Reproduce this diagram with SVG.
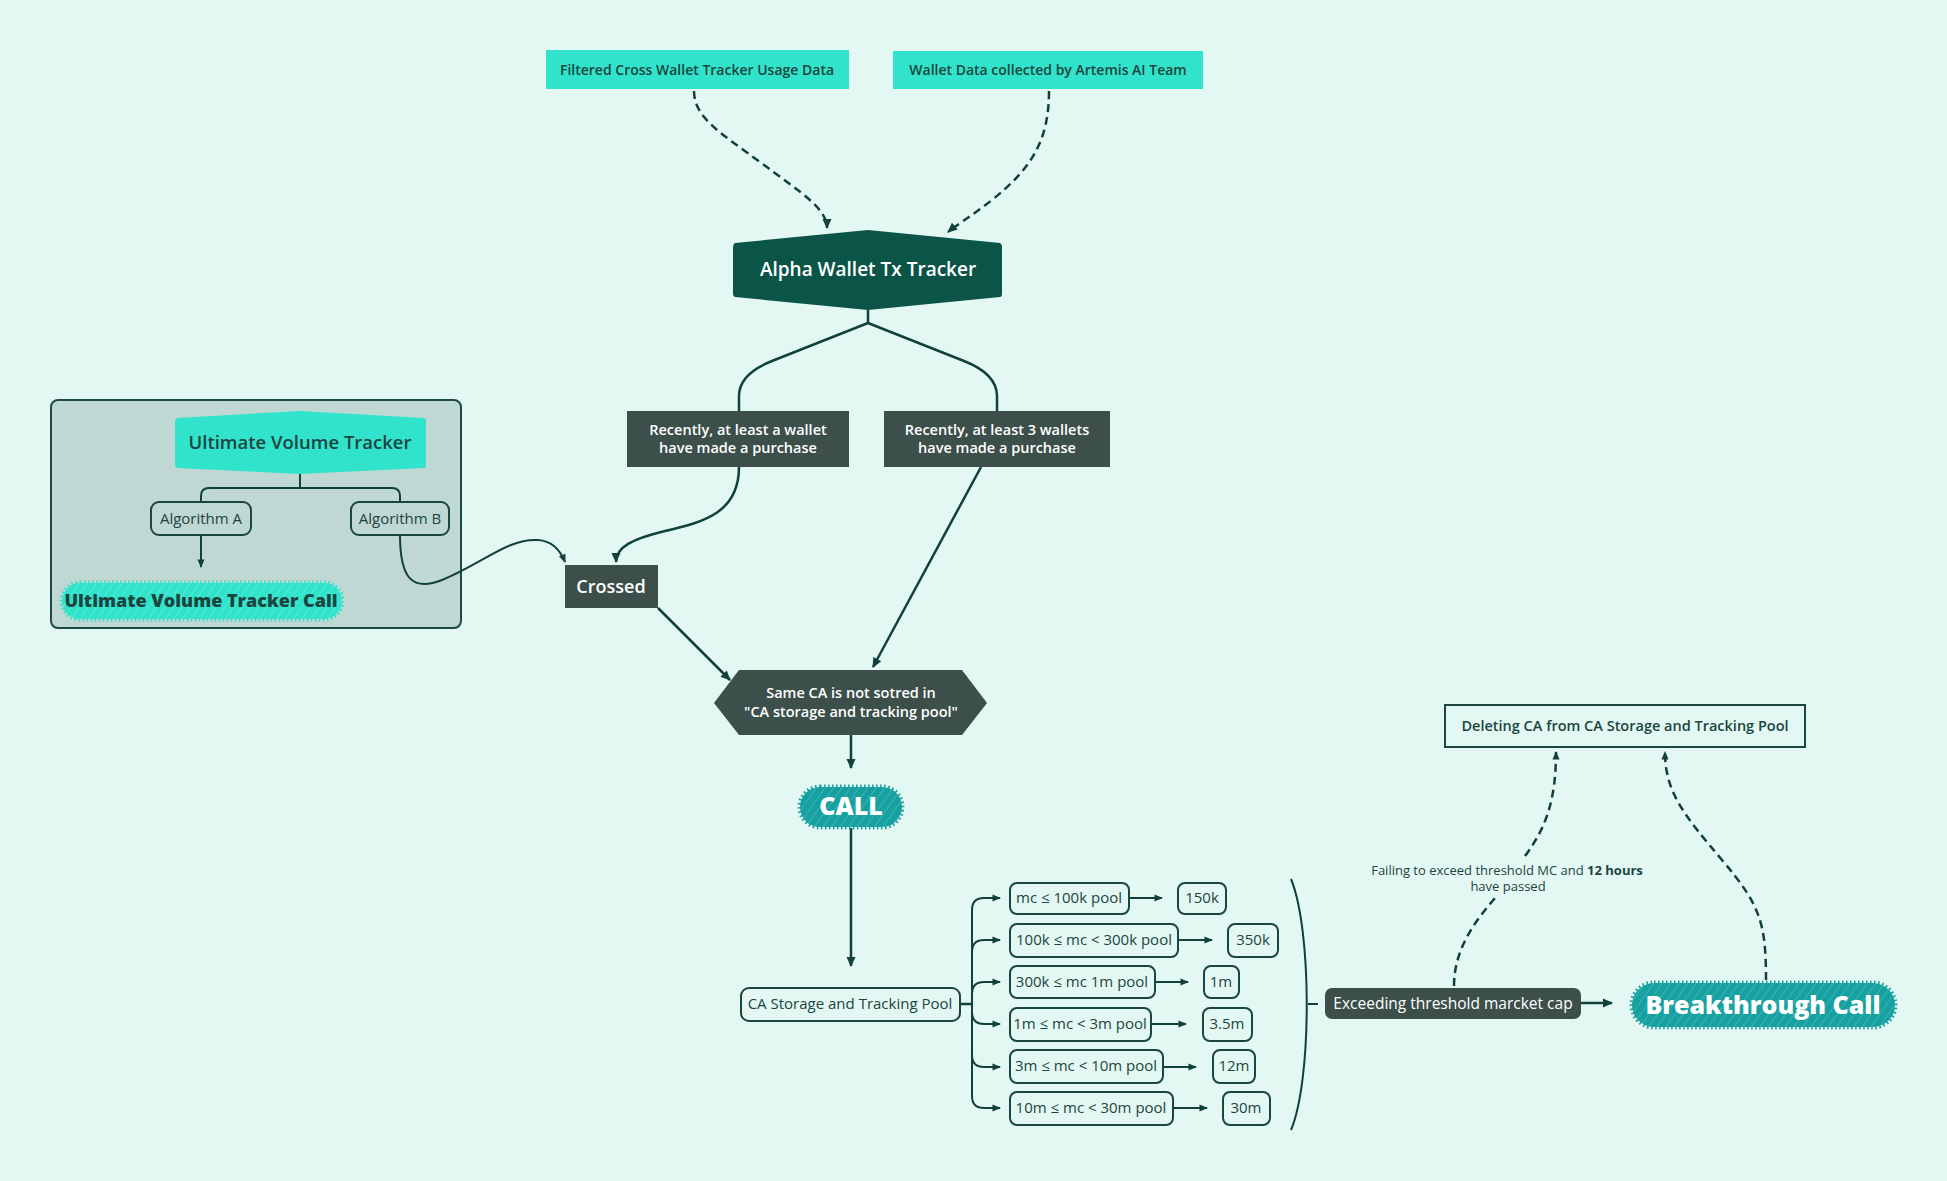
<svg xmlns="http://www.w3.org/2000/svg" width="1947" height="1181" viewBox="0 0 1947 1181">
<style>
text{font-family:"Open Sans","Liberation Sans",sans-serif;}
.conn{fill:none;stroke:#12403b;stroke-width:2.5;}
.dash{fill:none;stroke:#12403b;stroke-width:2.5;stroke-dasharray:8 5;}
.thin{fill:none;stroke:#12403b;stroke-width:2;}
.pill{fill:#e3f8f3;stroke:#1b4540;stroke-width:2;}
.dark{fill:#3c4f4b;}
.wt{fill:#ffffff;font-weight:600;text-anchor:middle;}
.wtb{fill:#ffffff;font-weight:800;text-anchor:middle;}
.dt{fill:#1b4540;text-anchor:middle;}
.pt{fill:#1b4540;font-size:15px;text-anchor:middle;}
.blobT{fill:#17a0a0;stroke:#17a0a0;stroke-width:5;stroke-dasharray:1.5 2.5;}
.blobC{fill:#30e3ca;stroke:#30e3ca;stroke-width:5;stroke-dasharray:1.5 2.5;}
</style>
<defs>
<marker id="ah" markerWidth="12" markerHeight="12" refX="10" refY="6" orient="auto" markerUnits="userSpaceOnUse">
<path d="M1,1.5 L11,6 L1,10.5 Z" fill="#12403b"/>
</marker>
<marker id="ahs" markerWidth="10" markerHeight="10" refX="8" refY="5" orient="auto" markerUnits="userSpaceOnUse">
<path d="M0.5,1.5 L9,5 L0.5,8.5 Z" fill="#12403b"/>
</marker>
<pattern id="hatchT" width="7" height="7" patternUnits="userSpaceOnUse" patternTransform="rotate(35)">
<line x1="0" y1="0" x2="0" y2="7" stroke="#5cc4c4" stroke-width="1"/>
</pattern>
<pattern id="hatchC" width="7" height="7" patternUnits="userSpaceOnUse" patternTransform="rotate(35)">
<line x1="0" y1="0" x2="0" y2="7" stroke="#7af0dc" stroke-width="1"/>
</pattern>
</defs>
<rect x="0" y="0" width="1947" height="1181" fill="#e3f8f3"/>

<g id="ultimate-container">
<rect x="51" y="400" width="410" height="228" rx="7" fill="#bfd8d4" stroke="#1d4a44" stroke-width="2"/>
</g>

<g id="connectors">
<path class="dash" d="M694,91 C694,118 722,134 760,162 C800,192 827,208 827,228" marker-end="url(#ah)"/>
<path class="dash" d="M1049,91 C1049,140 1032,168 992,200 C966,220 955,226 948,232" marker-end="url(#ah)"/>
<path class="conn" d="M868,310 V323 M868,323 L772,361 Q739,374 739,396 V411 M868,323 L964,361 Q997,374 997,396 V411"/>
<path class="conn" d="M739,467 C739,512 705,522 665,531 C632,539 616,547 616,562" marker-end="url(#ah)"/>
<path class="thin" d="M400,535 C400,578 412,592 442,580 C482,564 508,538 538,540 C553,541 561,552 565,562" marker-end="url(#ahs)"/>
<path class="conn" d="M981,467 L873,667" marker-end="url(#ah)"/>
<path class="conn" d="M658,608 L730,680" marker-end="url(#ah)"/>
<path class="conn" d="M851,735 V768" marker-end="url(#ah)"/>
<path class="conn" d="M851,828 V966" marker-end="url(#ah)"/>
<path class="thin" d="M300,474 V488 M201,503 V496 Q201,488 209,488 H392 Q400,488 400,496 V503"/>
<path class="thin" d="M201,535 V567" marker-end="url(#ahs)"/>
<path class="conn" d="M960,1004 H972"/>
<path class="thin" d="M972,910 V1096"/>
<path class="thin" d="M972,910 Q972,898 984,898 H1000" marker-end="url(#ahs)"/>
<path class="thin" d="M972,952 Q972,940 984,940 H1000" marker-end="url(#ahs)"/>
<path class="thin" d="M972,994 Q972,982 984,982 H1000" marker-end="url(#ahs)"/>
<path class="thin" d="M972,1012 Q972,1024 984,1024 H1000" marker-end="url(#ahs)"/>
<path class="thin" d="M972,1055 Q972,1067 984,1067 H1000" marker-end="url(#ahs)"/>
<path class="thin" d="M972,1096 Q972,1108 984,1108 H1000" marker-end="url(#ahs)"/>
<path class="thin" d="M1129,898 H1162" marker-end="url(#ahs)"/>
<path class="thin" d="M1178,940 H1212" marker-end="url(#ahs)"/>
<path class="thin" d="M1155,982 H1188" marker-end="url(#ahs)"/>
<path class="thin" d="M1151,1024 H1186" marker-end="url(#ahs)"/>
<path class="thin" d="M1163,1067 H1196" marker-end="url(#ahs)"/>
<path class="thin" d="M1173,1108 H1207" marker-end="url(#ahs)"/>
<path class="thin" d="M1291,879 C1312,930 1312,1080 1291,1130 M1308,1004 H1318"/>
<path class="conn" d="M1581,1003 H1612" stroke-width="3" marker-end="url(#ah)"/>
<path class="dash" d="M1454,986 C1454,950 1474,922 1496,897" stroke-width="2"/>
<path class="dash" d="M1525,856 C1546,828 1556,800 1556,752" stroke-width="2" marker-end="url(#ahs)"/>
<path class="dash" d="M1766,980 C1766,922 1760,905 1722,860 C1684,815 1665,792 1665,752" stroke-width="2" marker-end="url(#ahs)"/>
</g>

<g id="src-filtered">
<rect x="546" y="50" width="303" height="39" fill="#30e3ca"/>
<text class="dt" x="697" y="75" font-size="14" font-weight="600">Filtered Cross Wallet Tracker Usage Data</text>
</g>
<g id="src-wallet-data">
<rect x="893" y="51" width="310" height="38" fill="#30e3ca"/>
<text class="dt" x="1048" y="75" font-size="14" font-weight="600">Wallet Data collected by Artemis AI Team</text>
</g>

<g id="alpha-tracker">
<path d="M735,243 L868,230 L1000,243 Q1002,244 1002,247 V294 Q1002,297 1000,297 L868,310 L735,297 Q733,296 733,294 V247 Q733,244 735,243 Z" fill="#0b5548"/>
<text class="wt" x="868" y="276" font-size="19">Alpha Wallet Tx Tracker</text>
</g>

<g id="recent-one">
<rect x="627" y="411" width="222" height="56" class="dark"/>
<text class="wt" x="738" y="435" font-size="14.5">Recently, at least a wallet</text>
<text class="wt" x="738" y="453" font-size="14.5">have made a purchase</text>
</g>
<g id="recent-three">
<rect x="884" y="411" width="226" height="56" class="dark"/>
<text class="wt" x="997" y="435" font-size="14.5">Recently, at least 3 wallets</text>
<text class="wt" x="997" y="453" font-size="14.5">have made a purchase</text>
</g>

<g id="crossed">
<rect x="565" y="565" width="93" height="43" class="dark"/>
<text class="wt" x="611" y="593" font-size="18">Crossed</text>
</g>

<g id="same-ca">
<path d="M714,703 L739,670 H962 L987,703 L962,735 H739 Z" class="dark"/>
<text class="wt" x="851" y="698" font-size="14.5">Same CA is not sotred in</text>
<text class="wt" x="851" y="717" font-size="14.5">"CA storage and tracking pool"</text>
</g>

<g id="call">
<rect x="800" y="787" width="102" height="40" rx="20" class="blobT"/>
<rect x="800" y="787" width="102" height="40" rx="20" fill="url(#hatchT)"/>
<text class="wtb" x="851" y="815" font-size="25">CALL</text>
</g>

<g id="ca-storage">
<rect x="741" y="988" width="219" height="33" rx="8" class="pill"/>
<text class="pt" x="850" y="1009">CA Storage and Tracking Pool</text>
</g>

<g id="pool-1">
<rect x="1010" y="883" width="119" height="31" rx="7" class="pill"/>
<text class="pt" x="1069" y="903">mc ≤ 100k pool</text>
</g>
<g id="val-1">
<rect x="1178" y="883" width="48" height="31" rx="7" class="pill"/>
<text class="pt" x="1202" y="903">150k</text>
</g>
<g id="pool-2">
<rect x="1010" y="924" width="168" height="33" rx="7" class="pill"/>
<text class="pt" x="1094" y="945">100k ≤ mc &lt; 300k pool</text>
</g>
<g id="val-2">
<rect x="1228" y="924" width="50" height="33" rx="7" class="pill"/>
<text class="pt" x="1253" y="945">350k</text>
</g>
<g id="pool-3">
<rect x="1010" y="966" width="145" height="32" rx="7" class="pill"/>
<text class="pt" x="1082" y="987">300k ≤ mc 1m pool</text>
</g>
<g id="val-3">
<rect x="1204" y="966" width="35" height="32" rx="7" class="pill"/>
<text class="pt" x="1221" y="987">1m</text>
</g>
<g id="pool-4">
<rect x="1010" y="1008" width="141" height="33" rx="7" class="pill"/>
<text class="pt" x="1080" y="1029">1m ≤ mc &lt; 3m pool</text>
</g>
<g id="val-4">
<rect x="1203" y="1008" width="49" height="33" rx="7" class="pill"/>
<text class="pt" x="1227" y="1029">3.5m</text>
</g>
<g id="pool-5">
<rect x="1010" y="1050" width="153" height="33" rx="7" class="pill"/>
<text class="pt" x="1086" y="1071">3m ≤ mc &lt; 10m pool</text>
</g>
<g id="val-5">
<rect x="1213" y="1050" width="42" height="33" rx="7" class="pill"/>
<text class="pt" x="1234" y="1071">12m</text>
</g>
<g id="pool-6">
<rect x="1010" y="1092" width="163" height="33" rx="7" class="pill"/>
<text class="pt" x="1091" y="1113">10m ≤ mc &lt; 30m pool</text>
</g>
<g id="val-6">
<rect x="1223" y="1092" width="47" height="33" rx="7" class="pill"/>
<text class="pt" x="1246" y="1113">30m</text>
</g>

<g id="exceeding">
<rect x="1325" y="988" width="256" height="31" rx="7" class="dark"/>
<text x="1453" y="1009" font-size="15.5" fill="#ffffff" text-anchor="middle">Exceeding threshold marcket cap</text>
</g>

<g id="breakthrough">
<rect x="1632" y="983" width="263" height="44" rx="22" class="blobT"/>
<rect x="1632" y="983" width="263" height="44" rx="22" fill="url(#hatchT)"/>
<text class="wtb" x="1763" y="1014" font-size="25">Breakthrough Call</text>
</g>

<g id="deleting">
<rect x="1445" y="705" width="360" height="42" fill="#e3f8f3" stroke="#1b4540" stroke-width="2"/>
<text class="dt" x="1625" y="731" font-size="14.5" font-weight="600">Deleting CA from CA Storage and Tracking Pool</text>
</g>

<g id="failing-label">
<text class="dt" x="1507" y="875" font-size="13">Failing to exceed threshold MC and <tspan font-weight="700">12 hours</tspan></text>
<text class="dt" x="1508" y="891" font-size="13">have passed</text>
</g>

<g id="ultimate-tracker">
<path d="M177,418 L300,411 L424,418 Q426,419 426,421 V466 Q426,468 424,468 L300,474 L177,468 Q175,467 175,465 V421 Q175,419 177,418 Z" fill="#30e3ca"/>
<text class="dt" x="300" y="449" font-size="18.5" font-weight="600">Ultimate Volume Tracker</text>
</g>
<g id="algorithm-a">
<rect x="151" y="502" width="100" height="33" rx="8" fill="#bfd8d4" stroke="#1b4540" stroke-width="2"/>
<text class="pt" x="201" y="524">Algorithm A</text>
</g>
<g id="algorithm-b">
<rect x="351" y="502" width="98" height="33" rx="8" fill="#bfd8d4" stroke="#1b4540" stroke-width="2"/>
<text class="pt" x="400" y="524">Algorithm B</text>
</g>
<g id="ultimate-call">
<rect x="62" y="583" width="280" height="36" rx="18" class="blobC"/>
<rect x="62" y="583" width="280" height="36" rx="18" fill="url(#hatchC)"/>
<text class="dt" x="201" y="607" font-size="18" font-weight="800">Ultimate Volume Tracker Call</text>
</g>
</svg>
